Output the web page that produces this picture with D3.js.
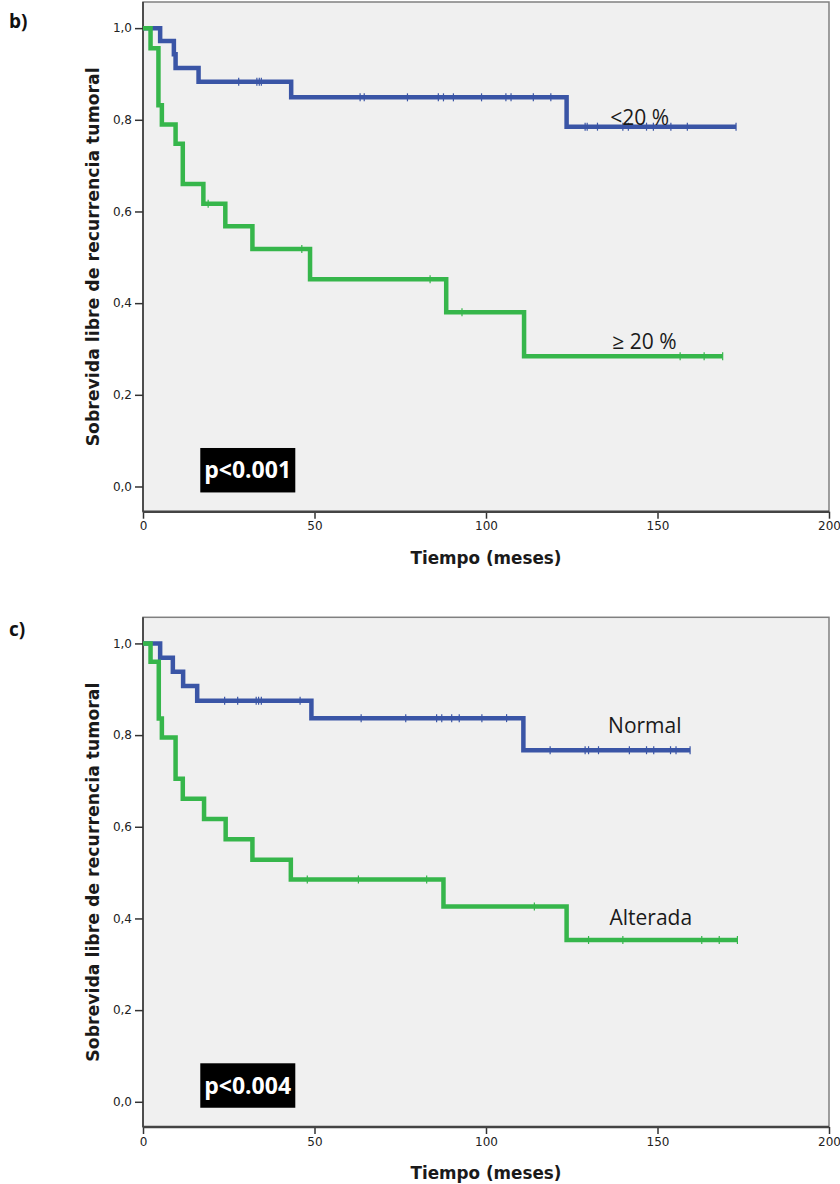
<!DOCTYPE html>
<html>
<head>
<meta charset="utf-8">
<script src="https://cdn.jsdelivr.net/npm/d3@7"></script>
<style>
  body { margin: 0; background: #fff; }
  svg { display: block; }
</style>
</head>
<body>
<div id="draw"></div>
<script>
var xTicks = [0, 50, 100, 150, 200];
var yTicks = [0, 0.2, 0.4, 0.6, 0.8, 1.0];

// panel b) : Kaplan-Meier steps (time in months, survival)
var bLowTime = [0, 5, 9, 9.5, 16.2, 43.2, 123.5, 172.9];
var bLowSurv = [1, 0.972, 0.943, 0.913, 0.883, 0.849, 0.785, 0.785];
var bLowCens = [27.9, 33.2, 33.9, 34.5, 63.3, 64.5, 77.1, 86.1, 87.6, 90.5, 98.7, 105.8, 107.3, 113.8, 118.9,
                128.9, 129.5, 132.5, 139.9, 141.5, 146.8, 148.8, 153.9, 158.7, 172.9];
var bHighTime = [0, 2.2, 4.5, 5.5, 9.5, 11.6, 17.6, 24, 31.9, 48.7, 88.4, 111.1, 169];
var bHighSurv = [1, 0.956, 0.832, 0.79, 0.748, 0.66, 0.617, 0.568, 0.518, 0.452, 0.38, 0.284, 0.284];
var bHighCens = [19, 46.3, 83.7, 93, 156.6, 163.6, 169];

// panel c)
var cNormTime = [0, 5, 8.7, 11.7, 15.8, 49.1, 110.9, 159.5];
var cNormSurv = [1, 0.969, 0.938, 0.907, 0.875, 0.837, 0.767, 0.767];
var cNormCens = [23.8, 27.6, 33, 33.7, 34.5, 45.8, 63.6, 76.6, 85.6, 87.1, 90, 92.2, 98.8, 106, 118.7,
                 128.9, 129.9, 132.8, 141.8, 146.8, 148.9, 153.8, 155.4, 159.5];
var cAltTime = [0, 2.2, 4.6, 5.5, 9.5, 11.6, 17.8, 24.1, 31.9, 43.1, 87.6, 123.5, 173.3];
var cAltSurv = [1, 0.96, 0.836, 0.795, 0.705, 0.661, 0.617, 0.573, 0.528, 0.485, 0.426, 0.353, 0.353];
var cAltCens = [47.9, 62.8, 82.7, 114.1, 129.9, 139.9, 162.9, 168, 173.3];

var blue = '#3a55a6';
var green = '#36b64b';

var svg = d3.select('#draw').append('svg').attr('width', 840).attr('height', 1184);

function survAt(times, surv, t) {
  var v = surv[0];
  for(var i=0;i<times.length;i++) { if(times[i] <= t) v = surv[i]; }
  return v;
}

function drawPanel(yoff, tag, tagY, curves, pText) {
  var g = svg.append('g').attr('transform', 'translate(0,' + yoff + ')');

  var x = d3.scaleLinear().domain([0, 200]).range([143, 829]);
  var y = d3.scaleLinear().domain([-0.055, 1.057]).range([511.7, 2]);

  g.append('rect')
    .attr('x', x(0)).attr('y', y(1.057))
    .attr('width', x(200) - x(0)).attr('height', y(-0.055) - y(1.057))
    .attr('fill', '#f0f0f0').attr('stroke', '#808080').attr('stroke-width', 1.5);

  // axes
  var yAxis = d3.axisLeft(y).tickValues(yTicks).tickSize(8).tickPadding(3)
    .tickFormat(function(d) { return d3.format('.1f')(d).replace('.', ','); });
  var ya = g.append('g').attr('transform', 'translate(' + x(0) + ',0)').call(yAxis);
  var xAxis = d3.axisBottom(x).tickValues(xTicks).tickSize(7).tickPadding(3);
  var xa = g.append('g').attr('transform', 'translate(0,' + y(-0.055) + ')').call(xAxis);
  [ya, xa].forEach(function(a) {
    a.select('.domain').remove();
    a.selectAll('line').attr('stroke', '#333').attr('stroke-width', 1.5);
    a.selectAll('text').attr('font-family', 'DejaVu Sans').attr('font-size', 12).attr('fill', '#222');
  });
  g.append('line').attr('x1', x(0)).attr('x2', x(0)).attr('y1', y(1.057)).attr('y2', y(-0.055))
    .attr('stroke', '#333').attr('stroke-width', 1.5);
  g.append('line').attr('x1', x(0)).attr('x2', x(200)).attr('y1', y(-0.055)).attr('y2', y(-0.055))
    .attr('stroke', '#444').attr('stroke-width', 2.5);

  var line = d3.line().curve(d3.curveStepAfter)
    .x(function(d) { return x(d[0]); })
    .y(function(d) { return y(d[1]); });

  curves.forEach(function(c) {
    var pts = d3.zip(c.time, c.surv);
    g.append('path').attr('d', line(pts))
      .attr('fill', 'none').attr('stroke', c.col).attr('stroke-width', 4.5);
    g.selectAll(null).data(c.cens).enter().append('line')
      .attr('x1', function(d) { return x(d); }).attr('x2', function(d) { return x(d); })
      .attr('y1', function(d) { return y(survAt(c.time, c.surv, d)) - 4; })
      .attr('y2', function(d) { return y(survAt(c.time, c.surv, d)) + 4; })
      .attr('stroke', c.col).attr('stroke-width', 1.2);
    g.append('text')
      .attr('x', x(c.lx)).attr('y', y(c.ly))
      .attr('font-family', 'Open Sans').attr('font-size', 21).attr('fill', '#1a1a1a')
      .text(c.label);
  });

  // p value box
  g.append('rect').attr('x', x(16.7)).attr('y', y(0.084))
    .attr('width', x(44.4) - x(16.7)).attr('height', y(-0.013) - y(0.084))
    .attr('fill', '#000');
  g.append('text').attr('x', x(30.5)).attr('y', y(0.0355) + 8)
    .attr('text-anchor', 'middle')
    .attr('font-family', 'Open Sans').attr('font-weight', 'bold').attr('font-size', 23)
    .attr('fill', '#fff').text(pText);

  // axis titles
  g.append('text')
    .attr('transform', 'translate(99,' + ((y(1.057) + y(-0.055)) / 2) + ') rotate(-90)')
    .attr('text-anchor', 'middle')
    .attr('font-family', 'DejaVu Sans').attr('font-weight', 'bold').attr('font-size', 17.3)
    .attr('fill', '#1a1a1a')
    .text('Sobrevida libre de recurrencia tumoral');
  g.append('text')
    .attr('x', x(100)).attr('y', 564)
    .attr('text-anchor', 'middle')
    .attr('font-family', 'DejaVu Sans').attr('font-weight', 'bold').attr('font-size', 16.8)
    .attr('fill', '#1a1a1a')
    .text('Tiempo (meses)');

  g.append('text').attr('x', 9).attr('y', tagY)
    .attr('font-family', 'Open Sans').attr('font-weight', 'bold').attr('font-size', 19)
    .attr('fill', '#111').text(tag);
}

drawPanel(0, 'b)', 28, [
  { time: bLowTime, surv: bLowSurv, cens: bLowCens, col: blue, label: '<20 %', lx: 136.2, ly: 0.789 },
  { time: bHighTime, surv: bHighSurv, cens: bHighCens, col: green, label: '\u2265 20 %', lx: 136.8, ly: 0.30 }
], 'p<0.001');

drawPanel(615.3, 'c)', 21, [
  { time: cNormTime, surv: cNormSurv, cens: cNormCens, col: blue, label: 'Normal', lx: 135.6, ly: 0.804 },
  { time: cAltTime, surv: cAltSurv, cens: cAltCens, col: green, label: 'Alterada', lx: 136, ly: 0.386 }
], 'p<0.004');
</script>
</body>
</html>
